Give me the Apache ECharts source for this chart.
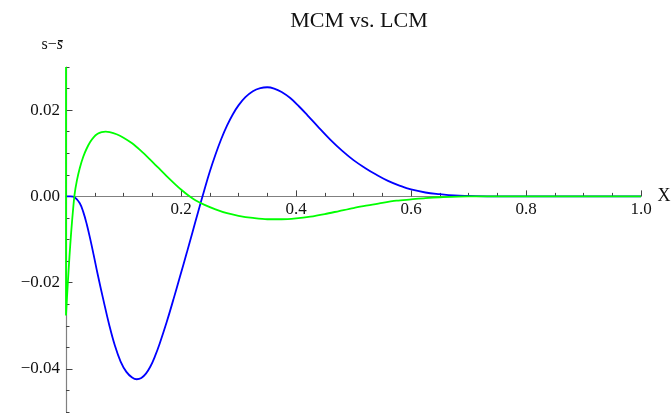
<!DOCTYPE html>
<html>
<head>
<meta charset="utf-8">
<script src="https://cdn.jsdelivr.net/npm/echarts@6/dist/echarts.min.js"></script>
<style>html,body{margin:0;padding:0;background:#fff}#c{width:672px;height:414px}</style>
</head>
<body>
<div id="c"></div>
<script>
// Data
var titleText = 'MCM vs. LCM';
var yMajorTicks = [-0.04, -0.02, 0, 0.02];
var mcmX = [0, 0.008, 0.016, 0.024, 0.030, 0.036, 0.042, 0.048, 0.055, 0.065, 0.075, 0.085, 0.095, 0.105, 0.115, 0.123, 0.131, 0.139, 0.147, 0.155, 0.163, 0.175, 0.1866, 0.198, 0.21, 0.22, 0.23, 0.240, 0.250, 0.260, 0.270, 0.280, 0.290, 0.300, 0.312, 0.325, 0.338, 0.350, 0.362, 0.375, 0.390, 0.405, 0.42, 0.44, 0.46, 0.48, 0.50, 0.52, 0.54, 0.56, 0.58, 0.60, 0.625, 0.65, 0.675, 0.70, 0.75, 0.8, 0.9, 1.0];
var mcmY = [0, 0, -0.0003, -0.0016, -0.0036, -0.0064, -0.0098, -0.0135, -0.0180, -0.0240, -0.0297, -0.0346, -0.0383, -0.0407, -0.0420, -0.0424, -0.0421, -0.0411, -0.0394, -0.0370, -0.0341, -0.0292, -0.0240, -0.0187, -0.0131, -0.0083, -0.0035, 0.0012, 0.0057, 0.0097, 0.0133, 0.0164, 0.0190, 0.0211, 0.0230, 0.0244, 0.0251, 0.0253, 0.0250, 0.0242, 0.0228, 0.0209, 0.0188, 0.0159, 0.0131, 0.0106, 0.0084, 0.0066, 0.0050, 0.0036, 0.0025, 0.0016, 0.0009, 0.0005, 0.0002, 0.0001, 0, 0, 0, 0];
var lcmX = [0, 0, 0.003, 0.006, 0.009, 0.012, 0.015, 0.019, 0.024, 0.030, 0.036, 0.042, 0.048, 0.055, 0.062, 0.069, 0.076, 0.088, 0.100, 0.115, 0.130, 0.145, 0.160, 0.175, 0.190, 0.200, 0.213, 0.225, 0.240, 0.260, 0.280, 0.300, 0.325, 0.350, 0.375, 0.400, 0.425, 0.450, 0.475, 0.500, 0.525, 0.550, 0.575, 0.600, 0.625, 0.650, 0.700, 0.75, 1.0];
var lcmY = [0.03, -0.0276, -0.0205, -0.0140, -0.0083, -0.0035, 0.0005, 0.0037, 0.0066, 0.0092, 0.0111, 0.0126, 0.0137, 0.0145, 0.0149, 0.0150, 0.0149, 0.0144, 0.0136, 0.0123, 0.0106, 0.0087, 0.0067, 0.0047, 0.0028, 0.0016, 0.0002, -0.0009, -0.0019, -0.0030, -0.0039, -0.0045, -0.0050, -0.0053, -0.0053, -0.0051, -0.0047, -0.0041, -0.0034, -0.0027, -0.0021, -0.0015, -0.0010, -0.0007, -0.0004, -0.0002, 0, 0, 0];

function pairs(xs, ys) { return xs.map(function (x, i) { return [x, ys[i]]; }); }

var serif = "'Liberation Serif', 'Times New Roman', serif";
var gridTop = 67, gridBottom = 2, H = 414;
var yMin = -0.05, yMax = 0.03;
var plotH = H - gridTop - gridBottom;
var zeroPx = gridTop + plotH * (yMax / (yMax - yMin));
var xOffset = -((H - gridBottom) - zeroPx);

var chart = echarts.init(document.getElementById('c'), null, { renderer: 'canvas' });
chart.setOption({
  animation: false,
  backgroundColor: '#fff',
  title: {
    text: titleText, left: 354, top: 5, textAlign: 'center',
    textStyle: { fontFamily: serif, fontSize: 22, fontWeight: 'normal', color: '#111' }
  },
  grid: { left: 66, right: 31, top: gridTop, bottom: gridBottom, containLabel: false, outerBoundsMode: 'none' },
  xAxis: {
    type: 'value', min: 0, max: 1, interval: 0.2, position: 'bottom', offset: xOffset,
    name: 'X', nameLocation: 'end', nameGap: 9,
    nameTextStyle: { fontFamily: serif, fontSize: 18, color: '#111', verticalAlign: 'middle', padding: [0, 0, 4, 0] },
    axisLine: { onZero: false, lineStyle: { color: '#808080', width: 1.2 } },
    axisTick: { show: true, inside: true, length: 6, lineStyle: { color: '#444' } },
    minorTick: { show: true, splitNumber: 4, length: 3.5, lineStyle: { color: '#444' } },
    splitLine: { show: false },
    axisLabel: {
      fontFamily: serif, fontSize: 17, color: '#111', margin: 5,
      formatter: function (v) { return v === 0 ? '' : v.toFixed(1); }
    }
  },
  yAxis: [{
    type: 'value', min: yMin, max: yMax, interval: 0.005,
    name: '{n|s\u2212}{i|s\u0304}', nameLocation: 'end', nameGap: 14,
    nameTextStyle: {
      align: 'right', padding: [0, 3, 0, 0],
      rich: {
        n: { fontFamily: serif, fontSize: 16, color: '#111' },
        i: { fontFamily: serif, fontSize: 16, fontStyle: 'italic', color: '#111' }
      }
    },
    axisLine: { onZero: false, lineStyle: { color: '#808080', width: 1.2 } },
    axisTick: { show: true, inside: true, length: 3.5, lineStyle: { color: '#444' } },
    splitLine: { show: false },
    axisLabel: {
      customValues: yMajorTicks,
      fontFamily: serif, fontSize: 17, color: '#111', margin: 6,
      formatter: function (v) { var s = Math.abs(v).toFixed(2); return v < -1e-9 ? '\u2212' + s : s; }
    }
  }, {
    type: 'value', min: yMin, max: yMax, position: 'left', offset: 0,
    axisLine: { show: false, onZero: false },
    axisTick: { show: true, inside: true, length: 6.5, customValues: yMajorTicks, lineStyle: { color: '#444' } },
    axisLabel: { show: false },
    splitLine: { show: false }
  }],
  series: [{
    name: 'MCM', type: 'line', data: pairs(mcmX, mcmY), showSymbol: false,
    smooth: 0.4, clip: true,
    lineStyle: { color: '#0000ff', width: 1.8 }, z: 3
  }, {
    name: 'LCM', type: 'line', data: pairs(lcmX, lcmY), showSymbol: false,
    smooth: 0.3, clip: true,
    lineStyle: { color: '#00ff00', width: 1.8 }, z: 4
  }]
});
</script>
</body>
</html>
